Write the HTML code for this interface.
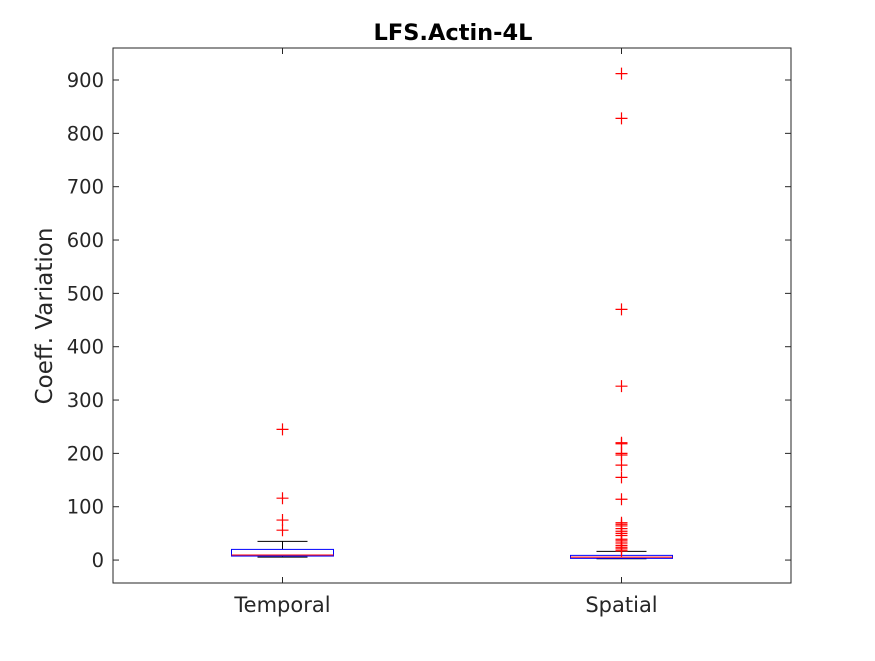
<!DOCTYPE html>
<html><head><meta charset="utf-8"><style>
body{margin:0;background:#fff;}
svg text{font-family:"DejaVu Sans","Liberation Sans",sans-serif;fill:#262626;}
</style></head><body>
<svg id="c" width="875" height="656" xmlns="http://www.w3.org/2000/svg"></svg>
<script>
const categories=["Temporal","Spatial"];
const q1=[7.5,3.2];
const medians=[9.4,5.6];
const q3=[20,8.8];
const whiskLo=[5.6,2.4];
const whiskHi=[35,16.3];
const outliersTemporal=[245,116,75,56];
const outliersSpatial=[912,828,470,326,220,218,200,197,178,155,114,70,67,64,59,54,50,46,39,36,32,27.5,24,21,17.5];
const yTicks=[0,100,200,300,400,500,600,700,800,900];
const yMin=-43, yMax=960;
const L=113,R=791,T=48,B=583;
const svg=document.getElementById('c');
const NS='http://www.w3.org/2000/svg';
function y(v){return B-(v-yMin)/(yMax-yMin)*(B-T);}
function x(i){return L+(i+0.5)/categories.length*(R-L);}
function mk(tag,attrs,name){const e=document.createElementNS(NS,tag);for(const k in attrs)e.setAttribute(k,attrs[k]);


svg.appendChild(e);return e;}
mk('rect',{x:L,y:T,width:R-L,height:B-T,fill:'#fff',stroke:'#262626','stroke-width':1},'plot-area');
yTicks.forEach(v=>{const yy=y(v);
mk('line',{x1:L,x2:L+6,y1:yy,y2:yy,stroke:'#262626'},'y-tick');
mk('line',{x1:R,x2:R-6,y1:yy,y2:yy,stroke:'#262626'},'y-tick-right');
const t=mk('text',{x:L-9,y:yy+7,'text-anchor':'end','font-size':19.5},'y-tick-label');t.textContent=v;});
categories.forEach((c,i)=>{const xx=x(i);
mk('line',{x1:xx,x2:xx,y1:B,y2:B-6,stroke:'#262626'},'x-tick');
mk('line',{x1:xx,x2:xx,y1:T,y2:T+6,stroke:'#262626'},'x-tick-top');
const t=mk('text',{x:xx,y:B+29,'text-anchor':'middle','font-size':21},'x-tick-label');t.textContent=c;
const bw=102,cw=50;
mk('line',{x1:xx,x2:xx,y1:y(whiskHi[i]),y2:y(q3[i]),stroke:'#000'},'whisker-upper');
mk('line',{x1:xx,x2:xx,y1:y(q1[i]),y2:y(whiskLo[i]),stroke:'#000'},'whisker-lower');
mk('line',{x1:xx-cw/2,x2:xx+cw/2,y1:y(whiskHi[i]),y2:y(whiskHi[i]),stroke:'#000'},'whisker-cap-upper');
mk('line',{x1:xx-cw/2,x2:xx+cw/2,y1:y(whiskLo[i]),y2:y(whiskLo[i]),stroke:'#000'},'whisker-cap-lower');
mk('rect',{x:xx-bw/2,y:y(q3[i]),width:bw,height:y(q1[i])-y(q3[i]),fill:'none',stroke:'#0000ff'},'box-'+c.toLowerCase());
mk('line',{x1:xx-bw/2,x2:xx+bw/2,y1:y(medians[i]),y2:y(medians[i]),stroke:'#ff0000'},'median-'+c.toLowerCase());
const outs=i===0?outliersTemporal:outliersSpatial;
outs.forEach(v=>{const yy=y(v);
mk('path',{d:`M${xx-6},${yy}H${xx+6}M${xx},${yy-6}V${yy+6}`,stroke:'#ff0000','stroke-width':1.2,fill:'none'},'outlier');});
});
const tt=mk('text',{x:453,y:40,'text-anchor':'middle','font-size':22.5,'font-weight':'bold'},'chart-title');tt.textContent='LFS.Actin-4L';tt.setAttribute('style','fill:#000');
const yl=mk('text',{x:52,y:316,'text-anchor':'middle','font-size':23,transform:'rotate(-90 52 316)'},'y-axis-title');yl.textContent='Coeff. Variation';
</script>
</body></html>
